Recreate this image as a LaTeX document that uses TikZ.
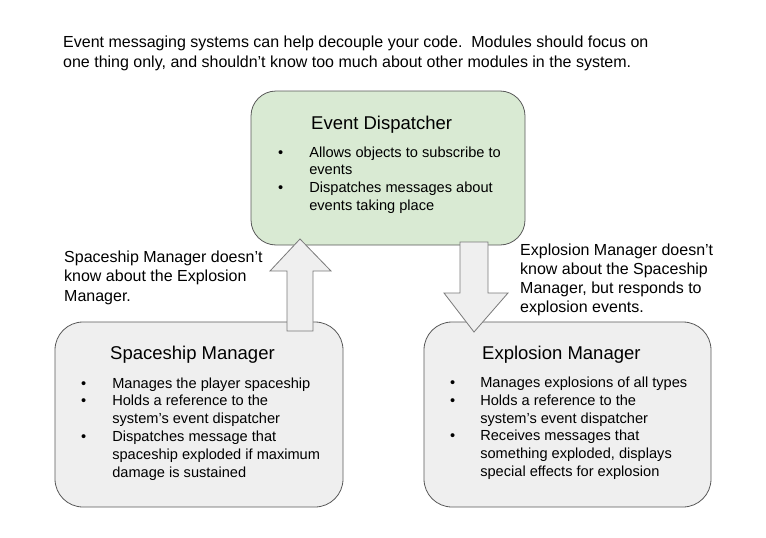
\documentclass[tikz,border=0pt]{standalone}
\usepackage{fontspec}
\setmainfont{Liberation Sans}
\usetikzlibrary{calc}
\definecolor{dispgreen}{HTML}{D9EAD3}
\definecolor{mgrgray}{HTML}{EFEFEF}
\definecolor{edgegray}{HTML}{595959}
\begin{document}
\begin{tikzpicture}[x=1pt, y=-1pt,
    module/.style ={draw=edgegray, fill=mgrgray, rounded corners=28pt, line width=0.8pt},
    title/.style ={anchor=base west, inner sep=0pt, font=\fontsize{18.5}{22}\selectfont},
    items/.style ={anchor=base west, inner sep=0pt, font=\fontsize{14.6}{17.8}\selectfont},
    remark/.style ={anchor=base west, inner sep=0pt, font=\fontsize{16}{19.5}\selectfont},
    blockarrow/.style ={draw=edgegray!80, fill=mgrgray, line width=0.8pt, line join=miter}]
   \useasboundingbox (0,0) rectangle (766,538);
   % the three modules
   \draw[module, fill=dispgreen, rounded corners=25pt] (251,91) rectangle (525,245);
   \draw[module] (55,322) rectangle (343,507);
   \draw[module] (424,322) rectangle (711,507);
   \coordinate (disp) at (251,91);
   \coordinate (ship) at (55,322);
   \coordinate (expl) at (424,322);
   % block arrows between the modules
   \coordinate (upfoot) at (300,331);
   \coordinate (downtop) at (474,242);
   \draw[blockarrow] ($(upfoot)+(-13,0)$) -- ++(0,-60) -- ++(-17,0) -- ($(upfoot)+(0,-92)$)
      -- ($(upfoot)+(31,-60)$) -- ++(-18,0) -- ($(upfoot)+(13,0)$) -- cycle;
   \draw[blockarrow] ($(downtop)+(-14,0)$) -- ++(0,51) -- ++(-16,0) -- ($(downtop)+(0,90)$)
      -- ($(downtop)+(34,51)$) -- ++(-20,0) -- ($(downtop)+(14,0)$) -- cycle;
   % texts
   \node[remark, font=\fontsize{16}{20}\selectfont] (intro) at (63,47)
      {\begin{tabular}[t]{@{}l@{}}
       Event messaging systems can help decouple your code.\ \ Modules should focus on\\
       one thing only, and shouldn’t know too much about other modules in the system.
       \end{tabular}};
   \node[remark] (shipnote) at (64,262)
      {\begin{tabular}[t]{@{}l@{}}
       Spaceship Manager doesn’t\\know about the Explosion\\Manager.
       \end{tabular}};
   \node[remark, font=\fontsize{16}{19}\selectfont] (explnote) at (520,255)
      {\begin{tabular}[t]{@{}l@{}}
       Explosion Manager doesn’t\\know about the Spaceship\\Manager, but responds to\\explosion events.
       \end{tabular}};
   \node[title] (disptitle) at (311,129.5) {Event Dispatcher};
   \node[items] (dispitems) at (278,157)
      {\begin{tabular}[t]{@{}l@{\hspace{26pt}}l@{}}
       • & Allows objects to subscribe to\\ & events\\
       • & Dispatches messages about\\ & events taking place
       \end{tabular}};
   \node[title] (shiptitle) at (110,359.6) {Spaceship Manager};
   \node[items] (shipitems) at (81,388)
      {\begin{tabular}[t]{@{}l@{\hspace{26pt}}l@{}}
       • & Manages the player spaceship\\
       • & Holds a reference to the\\ & system’s event dispatcher\\
       • & Dispatches message that\\ & spaceship exploded if maximum\\ & damage is sustained
       \end{tabular}};
   \node[title] (expltitle) at (482,359.6) {Explosion Manager};
   \node[items] (explitems) at (450,387.5)
      {\begin{tabular}[t]{@{}l@{\hspace{25pt}}l@{}}
       • & Manages explosions of all types\\
       • & Holds a reference to the\\ & system’s event dispatcher\\
       • & Receives messages that\\ & something exploded, displays\\ & special effects for explosion
       \end{tabular}};
 \end{tikzpicture}
\end{document}
